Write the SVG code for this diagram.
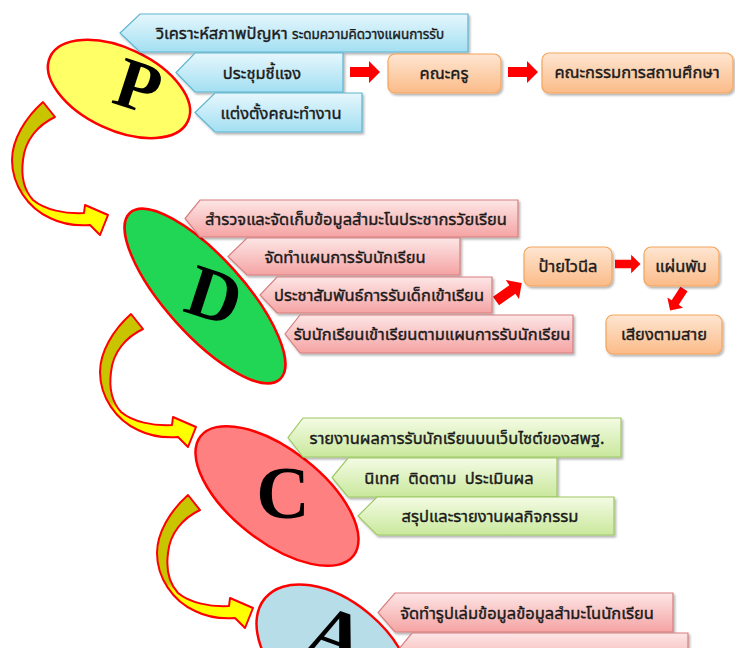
<svg xmlns="http://www.w3.org/2000/svg" width="735" height="648" viewBox="0 0 735 648">
<defs>
<linearGradient id="gBlue" x1="0" y1="0" x2="0" y2="1"><stop offset="0" stop-color="#e6f7fd"/><stop offset="1" stop-color="#a3dff2"/></linearGradient>
<linearGradient id="gPink" x1="0" y1="0" x2="0" y2="1"><stop offset="0" stop-color="#fde6e6"/><stop offset="1" stop-color="#f5a3a3"/></linearGradient>
<linearGradient id="gGreen" x1="0" y1="0" x2="0" y2="1"><stop offset="0" stop-color="#f4fbe4"/><stop offset="1" stop-color="#c9e89c"/></linearGradient>
<linearGradient id="gOrange" x1="0" y1="0" x2="0" y2="1"><stop offset="0" stop-color="#fee6d2"/><stop offset="1" stop-color="#fbbb88"/></linearGradient>
<linearGradient id="gCurve" x1="0" y1="0" x2="0" y2="1"><stop offset="0" stop-color="#c8c400"/><stop offset="0.66" stop-color="#c8c400"/><stop offset="0.72" stop-color="#ffff00"/><stop offset="1" stop-color="#ffff00"/></linearGradient>
<filter id="sh" x="-5%" y="-10%" width="110%" height="130%"><feDropShadow dx="1.5" dy="2" stdDeviation="1.2" flood-color="#000" flood-opacity="0.3"/></filter>
<path id="ra" d="M0,-5 H19 V-11 L30,0 L19,11 V5 H0 Z"/>
<path id="cv" d="M43,102 C25,118 12,140 12,160 C12,185 28,208 50,218 C62,224 76,226 90,225 L100,235 L108,215 L85,205 L84,213 C65,214 45,210 33,200 C24,190 21,175 23,160 C25,140 38,125 55,117 Z"/>
</defs>
<style>
.bb{fill:url(#gBlue);stroke:#5cb5cf;stroke-width:1.2;filter:url(#sh)}
.pk{fill:url(#gPink);stroke:#d67f7f;stroke-width:1.2;filter:url(#sh)}
.gr{fill:url(#gGreen);stroke:#9dc862;stroke-width:1.2;filter:url(#sh)}
.or{fill:url(#gOrange);stroke:#f5a55c;stroke-width:1.2;filter:url(#sh)}
.t{font-family:"Noto Sans Thai",Tahoma,"Noto Sans","DejaVu Sans",sans-serif;font-size:16.5px;fill:#1a1a1a;stroke:#1a1a1a;stroke-width:0.4;text-anchor:middle}
.s{font-size:13.5px}
.big{font-family:"Liberation Serif","Times New Roman",serif;font-weight:bold;fill:#000;text-anchor:middle}
.ell{stroke:#ff0000;stroke-width:2.5}
.rarr{fill:#ff0000}
.curve{fill:url(#gCurve);stroke:#ff0000;stroke-width:2;stroke-linejoin:round}
</style>
<rect width="735" height="648" fill="#ffffff"/>

<g id="connectors">
<use href="#cv" class="curve"/>
<use href="#cv" class="curve" transform="translate(88,212)"/>
<use href="#cv" class="curve" transform="translate(145,393)"/>
<use href="#ra" class="rarr" transform="translate(350,72)"/>
<use href="#ra" class="rarr" transform="translate(508,72)"/>
<use href="#ra" class="rarr" transform="translate(496,301) rotate(-35) scale(1.05)"/>
<use href="#ra" class="rarr" transform="translate(615,264) scale(0.85)"/>
<use href="#ra" class="rarr" transform="translate(684,289) rotate(123) scale(0.85)"/>
</g>

<g id="P">
<ellipse class="ell" cx="119" cy="89" rx="76" ry="41" transform="rotate(25 119 89)" fill="#ffff66"/>
<text class="big" font-size="72" transform="translate(131,109) rotate(18)">P</text>
</g>
<g id="p1"><polygon class="bb" points="140,14 468,14 468,52 140,52 120,33"/><text class="t" x="300" y="39">วิเคราะห์สภาพปัญหา <tspan class="s">ระดมความคิดวางแผนการรับ</tspan></text></g>
<g id="p2"><polygon class="bb" points="195,53 343,53 343,92 195,92 176,72.5"/><text class="t" x="262" y="79">ประชุมชี้แจง</text></g>
<g id="p3"><polygon class="bb" points="215,93 362,93 362,132 215,132 195,112.5"/><text class="t" x="281" y="119">แต่งตั้งคณะทำงาน</text></g>
<g id="o1"><rect class="or" x="388" y="54" width="113" height="39" rx="7"/><text class="t" x="444" y="79">คณะครู</text></g>
<g id="o2"><rect class="or" x="542" y="53" width="191" height="40" rx="7"/><text class="t" x="637" y="78">คณะกรรมการสถานศึกษา</text></g>

<g id="D">
<ellipse class="ell" cx="205" cy="296" rx="112" ry="39" transform="rotate(48 205 296)" fill="#22d655"/>
<text class="big" font-size="74" transform="translate(207,319) rotate(18)">D</text>
</g>
<g id="d1"><polygon class="pk" points="200,200 518,200 518,237 200,237 185,218.5"/><text class="t" x="356" y="225">สำรวจและจัดเก็บข้อมูลสำมะโนประชากรวัยเรียน</text></g>
<g id="d2"><polygon class="pk" points="247,238 460,238 460,275 247,275 228,256.5"/><text class="t" x="345" y="263">จัดทำแผนการรับนักเรียน</text></g>
<g id="d3"><polygon class="pk" points="277,277 492,277 492,313 277,313 260,295"/><text class="t" x="379" y="301">ประชาสัมพันธ์การรับเด็กเข้าเรียน</text></g>
<g id="d4"><polygon class="pk" points="300,315 573,315 573,353 300,353 285,334"/><text class="t" x="432" y="340">รับนักเรียนเข้าเรียนตามแผนการรับนักเรียน</text></g>
<g id="o3"><rect class="or" x="524" y="247" width="88" height="39" rx="7"/><text class="t" x="568" y="272">ป้ายไวนีล</text></g>
<g id="o4"><rect class="or" x="644" y="247" width="75" height="39" rx="7"/><text class="t" x="681" y="272">แผ่นพับ</text></g>
<g id="o5"><rect class="or" x="606" y="315" width="116" height="39" rx="7"/><text class="t" x="664" y="340">เสียงตามสาย</text></g>

<g id="C">
<ellipse class="ell" cx="277" cy="496" rx="97" ry="46" transform="rotate(38 277 496)" fill="#ff8080"/>
<text class="big" font-size="74" x="283" y="518">C</text>
</g>
<g id="c1"><polygon class="gr" points="303,418 621,418 621,457 303,457 288,437.5"/><text class="t" x="457" y="444">รายงานผลการรับนักเรียนบนเว็บไซต์ของสพฐ.</text></g>
<g id="c2"><polygon class="gr" points="348,458 557,458 557,497 348,497 332,477.5"/><text class="t" x="449" y="484" xml:space="preserve">นิเทศ  ติดตาม  ประเมินผล</text></g>
<g id="c3"><polygon class="gr" points="377,497 614,497 614,535 377,535 358,516"/><text class="t" x="490" y="522">สรุปและรายงานผลกิจกรรม</text></g>

<g id="A">
<ellipse class="ell" cx="334" cy="656" rx="90" ry="55" transform="rotate(40 334 656)" fill="#b7dde8"/>
<text class="big" font-size="76" transform="translate(328,660) rotate(20)">A</text>
</g>
<g id="a1"><polygon class="pk" points="395,593 673,593 673,632 395,632 378,612.5"/><text class="t" x="527" y="619">จัดทำรูปเล่มข้อมูลข้อมูลสำมะโนนักเรียน</text></g>
<g id="a2"><polygon class="pk" points="412,633 688,633 688,672 412,672 396,652.5"/></g>
</svg>
